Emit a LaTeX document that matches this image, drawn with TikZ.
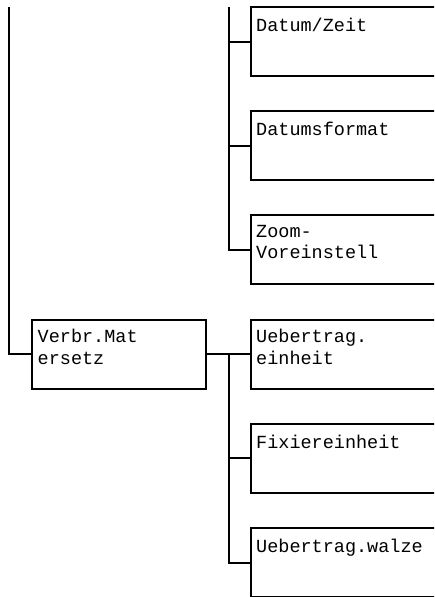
\documentclass[tikz,border=0pt]{standalone}
\usepackage{fontspec}
\newfontfamily\menufont{Liberation Mono}
\begin{document}
\begin{tikzpicture}[x=1pt, y=-1pt,
    menubox/.style={draw, line width=2pt, rectangle, inner sep=0pt, outer sep=0pt,
        anchor=north west, minimum height=69pt},
    menutext/.style={anchor=north west, inner sep=0pt, align=left,
        font=\menufont\fontsize{18.5}{21.5}\selectfont, execute at begin node=\strut},
    branch/.style={line width=2pt, line join=miter}]
    \useasboundingbox (0,0) rectangle (434,597);
    \clip (0,0) rectangle (434,597);

    % Upper menu entries
    \node[menubox, minimum width=200pt] (datum) at (250.5, 7) {};
    \node[menubox, minimum width=200pt] (fmt) at (250.5, 111.2) {};
    \node[menubox, minimum width=200pt] (zoom) at (250.5, 215.4) {};
    \node[menutext] (datumtxt) at ([shift={(5.5,9.5)}]datum.north west) {Datum/Zeit};
    \node[menutext] (fmttxt) at ([shift={(5.5,9.5)}]fmt.north west) {Datumsformat};
    \node[menutext] (zoomtxt) at ([shift={(5.5,9.5)}]zoom.north west) {Zoom-\\Voreinstell};

    % Consumables box
    \node[menubox, minimum width=174pt] (verbr) at (32, 319.6) {};
    \node[menutext] (verbrtxt) at ([shift={(5.5,9.5)}]verbr.north west) {Verbr.Mat\\ersetz};

    % Lower menu entries
    \node[menubox, minimum width=200pt] (uebeinh) at (250.5, 319.6) {};
    \node[menubox, minimum width=200pt] (fix) at (250.5, 423.8) {};
    \node[menubox, minimum width=200pt] (walze) at (250.5, 528) {};
    \node[menutext] (uebeinhtxt) at ([shift={(5.5,9.5)}]uebeinh.north west) {Uebertrag.\\einheit};
    \node[menutext] (fixtxt) at ([shift={(5.5,9.5)}]fix.north west) {Fixiereinheit};
    \node[menutext] (walzetxt) at ([shift={(5.5,9.5)}]walze.north west) {Uebertrag.walze};

    % Trunk lines from above
    \coordinate (lefttop) at (9, 7);
    \coordinate (forktop) at (229, 7);
    \draw[branch] (lefttop) |- (verbr.west);
    \draw[branch] (forktop) |- (zoom.west);
    \draw[branch] (datum.west -| forktop) -- (datum.west);
    \draw[branch] (fmt.west -| forktop) -- (fmt.west);

    % Lower fork
    \draw[branch] (verbr.east) -- (uebeinh.west);
    \draw[branch] (uebeinh.west -| forktop) |- (walze.west);
    \draw[branch] (fix.west -| forktop) -- (fix.west);
\end{tikzpicture}
\end{document}
